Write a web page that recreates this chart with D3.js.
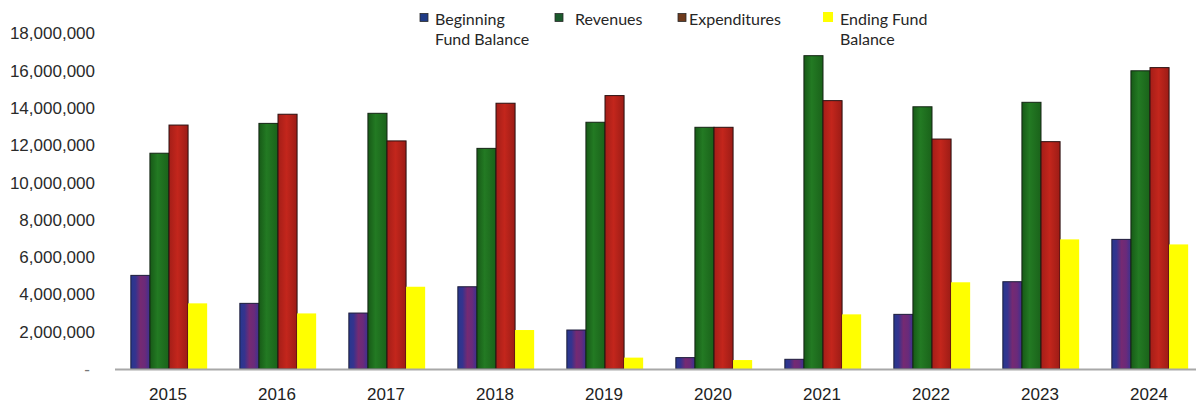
<!DOCTYPE html>
<html>
<head>
<meta charset="utf-8">
<script src="https://cdn.jsdelivr.net/npm/d3@7"></script>
<style>
  html, body { margin: 0; padding: 0; background: #fff; }
  svg { display: block; }
</style>
</head>
<body>
<svg id="chart" width="1196" height="405"></svg>
<script>
// Fund activity by fiscal year
const years = ["2015", "2016", "2017", "2018", "2019", "2020", "2021", "2022", "2023", "2024"];
const seriesNames = ["Beginning Fund Balance", "Revenues", "Expenditures", "Ending Fund Balance"];
const legendLines = [["Beginning", "Fund Balance"], ["Revenues"], ["Expenditures"], ["Ending Fund", "Balance"]];
const beginningBalance = [5020000, 3520000, 3000000, 4410000, 2090000, 610000, 520000, 2930000, 4680000, 6950000];
const revenues         = [11570000, 13170000, 13710000, 11830000, 13230000, 12960000, 16800000, 14060000, 14300000, 15990000];
const expenditures     = [13080000, 13660000, 12230000, 14250000, 14660000, 12960000, 14390000, 12330000, 12190000, 16160000];
const endingBalance    = [3520000, 2980000, 4410000, 2090000, 610000, 480000, 2930000, 4650000, 6950000, 6680000];
const yTicks = [0, 2000000, 4000000, 6000000, 8000000, 10000000, 12000000, 14000000, 16000000, 18000000];

const seriesValues = [beginningBalance, revenues, expenditures, endingBalance];

const svg = d3.select("#chart");
const defs = svg.append("defs");

// Bar fills: shaded horizontal gradients
const fills = [
  { id: "gBegin", stops: [["0%", "#26388e"], ["25%", "#36338e"], ["50%", "#752a72"], ["75%", "#6a2a7a"], ["100%", "#3a3290"]], stroke: "#1c1c3a" },
  { id: "gRev",   stops: [["0%", "#175a17"], ["40%", "#237a23"], ["100%", "#1a621a"]], stroke: "#142414" },
  { id: "gExp",   stops: [["0%", "#a41e18"], ["45%", "#c3261c"], ["100%", "#9c1c16"]], stroke: "#2a1010" },
  { id: "gEnd",   stops: [["0%", "#ffff00"], ["100%", "#ffff00"]], stroke: "none" }
];
fills.forEach(f => {
  const g = defs.append("linearGradient").attr("id", f.id)
    .attr("x1", "0").attr("y1", "0").attr("x2", "1").attr("y2", "0");
  f.stops.forEach(s => g.append("stop").attr("offset", s[0]).attr("stop-color", s[1]));
});
const legendColors = ["#1f3b85", "#1b5a2c", "#6e3a1c", "#ffff00"];

const y = d3.scaleLinear().domain([0, 18000000]).range([369, 33.3]);
const x0 = d3.scaleBand().domain(years).range([114.5, 1204.5]).paddingInner(0.3).paddingOuter(0.15);
const x1 = d3.scaleBand().domain(d3.range(seriesNames.length)).range([0, x0.bandwidth()]);

// Y axis labels (accounting style, dash for zero)
const fmt = d3.format(",");
svg.append("g").selectAll("text").data(yTicks).join("text")
  .attr("x", d => d === 0 ? 90 : 95)
  .attr("y", d => y(d) + 6)
  .attr("text-anchor", "end")
  .attr("font-family", "'Liberation Sans', Arial, sans-serif")
  .attr("font-size", 17)
  .attr("fill", d => d === 0 ? "#777" : "#2a2a2a")
  .text(d => d === 0 ? "-" : fmt(d));

// Bars
const groups = svg.append("g").selectAll("g").data(years).join("g")
  .attr("transform", d => `translate(${x0(d)},0)`);
groups.selectAll("rect")
  .data((yr, i) => seriesValues.map((vals, s) => ({ s, v: vals[i] })))
  .join("rect")
  .attr("x", d => x1(d.s))
  .attr("width", x1.bandwidth())
  .attr("y", d => y(d.v))
  .attr("height", d => y(0) - y(d.v))
  .attr("fill", d => `url(#${fills[d.s].id})`)
  .attr("stroke", d => fills[d.s].stroke)
  .attr("stroke-width", 1);

// Baseline
svg.append("line")
  .attr("x1", 115).attr("x2", 1196)
  .attr("y1", 369.5).attr("y2", 369.5)
  .attr("stroke", "#a8a8a8").attr("stroke-width", 2);

// X axis labels
svg.append("g").selectAll("text").data(years).join("text")
  .attr("x", d => x0(d) + x0.bandwidth() / 2 - 1)
  .attr("y", 399.5)
  .attr("text-anchor", "middle")
  .attr("font-family", "'Liberation Sans', Arial, sans-serif")
  .attr("font-size", 17)
  .attr("fill", "#222")
  .text(d => d);

// Legend
const legendX = [420, 555, 678, 823];
const legend = svg.append("g").selectAll("g").data(seriesNames).join("g")
  .attr("transform", (d, i) => `translate(${legendX[i]},0)`);
legend.append("rect")
  .attr("x", 0)
  .attr("y", (d, i) => i === 3 ? 12 : 13.5)
  .attr("width", (d, i) => i === 3 ? 10 : 8)
  .attr("height", (d, i) => i === 3 ? 10 : 8)
  .attr("fill", (d, i) => legendColors[i])
  .attr("stroke", (d, i) => i === 3 ? "none" : "#2a2a2a")
  .attr("stroke-width", 0.8);
legend.append("text")
  .attr("x", (d, i) => [15, 20, 11, 17][i])
  .attr("font-family", "Lato, 'Open Sans', sans-serif")
  .attr("font-size", 16)
  .attr("fill", "#262626")
  .selectAll("tspan")
  .data((d, i) => legendLines[i])
  .join("tspan")
  .attr("x", function () { return d3.select(this.parentNode).attr("x"); })
  .attr("y", (d, j) => 24.5 + j * 20.5)
  .text(d => d);
</script>
</body>
</html>
